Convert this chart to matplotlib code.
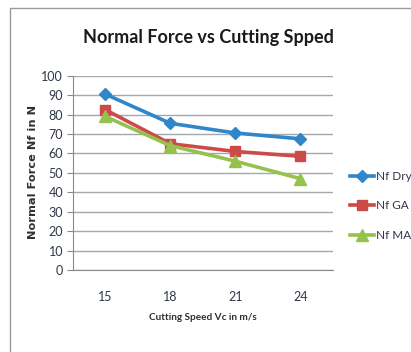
import matplotlib.pyplot as plt
from matplotlib.patches import Rectangle

speeds = ['15', '18', '21', '24']
nf_dry = [90.5, 75.5, 70.5, 67.5]
nf_ga = [82.5, 65, 61, 58.5]
nf_ma = [79, 64, 56, 47]

body = ['Lato', 'DejaVu Sans']

fig = plt.figure(figsize=(4.11, 3.52), dpi=100)
ax = fig.add_axes([0.177, 0.233, 0.633, 0.552])

# outer chart border
fig.patches.append(Rectangle((10 / 411, -0.01), 1.0, 1 - 8 / 352 + 0.01,
                             transform=fig.transFigure, fill=False,
                             edgecolor='#9a9a9a', linewidth=1.0))

x = range(len(speeds))
ax.plot(x, nf_dry, color='#2f86c8', lw=2.6, marker='D', ms=6.5, label='Nf Dry')
ax.plot(x, nf_ga, color='#cc4b48', lw=2.6, marker='s', ms=7.5, label='Nf GA')
ax.plot(x, nf_ma, color='#95c24e', lw=2.6, marker='^', ms=8, label='Nf MA')

ax.set_xlim(-0.5, 3.5)
ax.set_ylim(0, 100)
ax.set_yticks(range(0, 101, 10))
ax.set_xticks(list(x))
ax.set_xticklabels(speeds)
ax.grid(axis='y', color='#a4a8ac', lw=1.0)
ax.set_axisbelow(True)
for s in ['top', 'right']:
    ax.spines[s].set_visible(False)
ax.spines['left'].set_color('#8a8a8a')
ax.spines['bottom'].set_color('#8a8a8a')
ax.tick_params(axis='y', length=4, color='#8a8a8a', labelsize=9, labelcolor='#303848', pad=3)
ax.tick_params(axis='x', length=0, labelsize=9, labelcolor='#303848', pad=15)
for lab in ax.get_xticklabels() + ax.get_yticklabels():
    lab.set_family(body)

fig.text(0.507, 0.893, 'Normal Force vs Cutting Spped', ha='center', va='center',
         fontsize=13, fontweight='bold', color='#1a1a1a', family=body)
fig.text(0.494, 0.097, 'Cutting Speed Vc in m/s', ha='center', va='center',
         fontsize=7.2, fontweight='bold', color='#303030', family=body)
fig.text(0.08, 0.511, 'Normal Force Nf in N', ha='center', va='center', rotation=90,
         fontsize=8.2, fontweight='bold', color='#303030')

leg = ax.legend(loc='center left', bbox_to_anchor=(1.025, 0.33), frameon=False,
                handlelength=2.0, handletextpad=0.2, labelspacing=1.55,
                prop={'family': body, 'size': 8.5})
for t in leg.get_texts():
    t.set_color('#303848')

fig.savefig('out.png', dpi=100)
